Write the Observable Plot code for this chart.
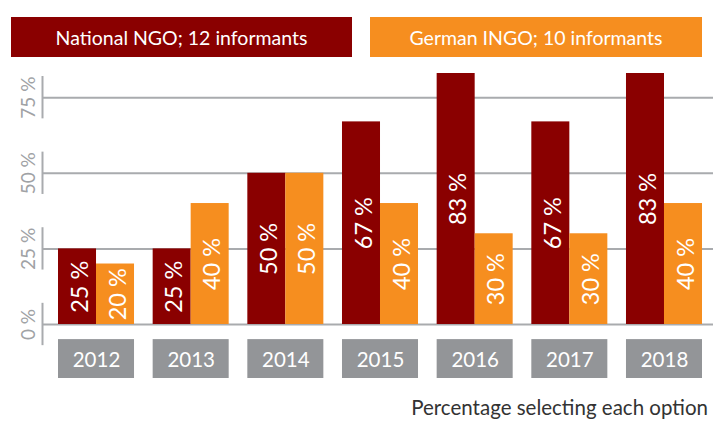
<!DOCTYPE html>
<html>
<head>
<meta charset="utf-8">
<script src="https://cdn.jsdelivr.net/npm/d3@7"></script>
<script src="https://cdn.jsdelivr.net/npm/@observablehq/plot@0.6"></script>
<style>
  html, body { margin: 0; padding: 0; background: #fff; }
  body { width: 713px; height: 422px; position: relative; overflow: hidden; font-family: Lato, "Noto Sans", sans-serif; }
  .leg { position: absolute; top: 17px; height: 40px; display: flex; align-items: center; justify-content: center; color: #fff; font-size: 19.5px; }
  #chart { position: absolute; left: 0; top: 60px; }
  #caption { position: absolute; right: 5px; top: 398px; font-size: 20.5px; line-height: 19px; color: #333; }
</style>
</head>
<body>
<div class="leg" id="leg1" style="left:11px;width:341px;background:#8a0000;"></div>
<div class="leg" id="leg2" style="left:370px;width:332px;background:#f68e1f;"></div>
<div id="chart"></div>
<div id="caption"></div>
<script>
const years = ["2012", "2013", "2014", "2015", "2016", "2017", "2018"];
const nationalNGO = [25, 25, 50, 67, 83, 67, 83];
const germanINGO = [20, 40, 50, 40, 30, 30, 40];
const yTicks = [0, 25, 50, 75];
const seriesNames = ["National NGO; 12 informants", "German INGO; 10 informants"];
const captionText = "Percentage selecting each option";

const RED = "#8a0000", ORANGE = "#f68e1f", GRAY = "#939598", GRID = "#a9abae";

document.getElementById("leg1").textContent = seriesNames[0];
document.getElementById("leg2").textContent = seriesNames[1];
document.getElementById("caption").textContent = captionText;

const rows = years.map((y, i) => ({year: y, nat: nationalNGO[i], ger: germanINGO[i]}));
const pct = v => v + " %";
const boxTop = -5, boxBottom = -17.86;

const chart = Plot.plot({
  width: 713,
  height: 330,
  marginLeft: 42,
  marginRight: 0,
  marginTop: 0,
  marginBottom: 12,
  style: {fontFamily: "Lato, 'Noto Sans', sans-serif", background: "transparent"},
  x: {type: "band", domain: years, range: [58, 702], paddingInner: 0.197, paddingOuter: 0, round: false, axis: null},
  y: {domain: [boxBottom, 87.3], range: [318, 0], axis: null},
  marks: [
    Plot.ruleY(yTicks, {stroke: GRID, strokeWidth: 2}),
    Plot.ruleX(yTicks, {x: null, y1: d => d - 7, y2: d => d + 7, stroke: GRID, strokeWidth: 2, dx: 42 - (42 + 713) / 2}),
    Plot.axisY(yTicks, {
      tickSize: 0, tickPadding: 14, tickRotate: -90, textAnchor: "middle", lineAnchor: "middle",
      tickFormat: pct, fontSize: 19, fill: "#a0a2a5", label: null
    }),
    Plot.barY(rows, {x: "year", y: "nat", fill: RED, insetRight: 38}),
    Plot.barY(rows, {x: "year", y: "ger", fill: ORANGE, insetLeft: 38}),
    Plot.text(rows, {x: "year", y: d => d.nat / 2, text: d => pct(d.nat), rotate: -90, fill: "white", fontSize: 23.5, dx: -16.5, lineAnchor: "middle"}),
    Plot.text(rows, {x: "year", y: d => d.ger / 2, text: d => pct(d.ger), rotate: -90, fill: "white", fontSize: 23.5, dx: 21.5, lineAnchor: "middle"}),
    Plot.barY(years, {x: d => d, y1: () => boxTop, y2: () => boxBottom, fill: GRAY}),
    Plot.text(years, {x: d => d, y: () => (boxTop + boxBottom) / 2 - 0.6, text: d => d, fill: "white", fontSize: 20.5, lineAnchor: "middle"})
  ]
});
document.getElementById("chart").appendChild(chart);
</script>
</body>
</html>
